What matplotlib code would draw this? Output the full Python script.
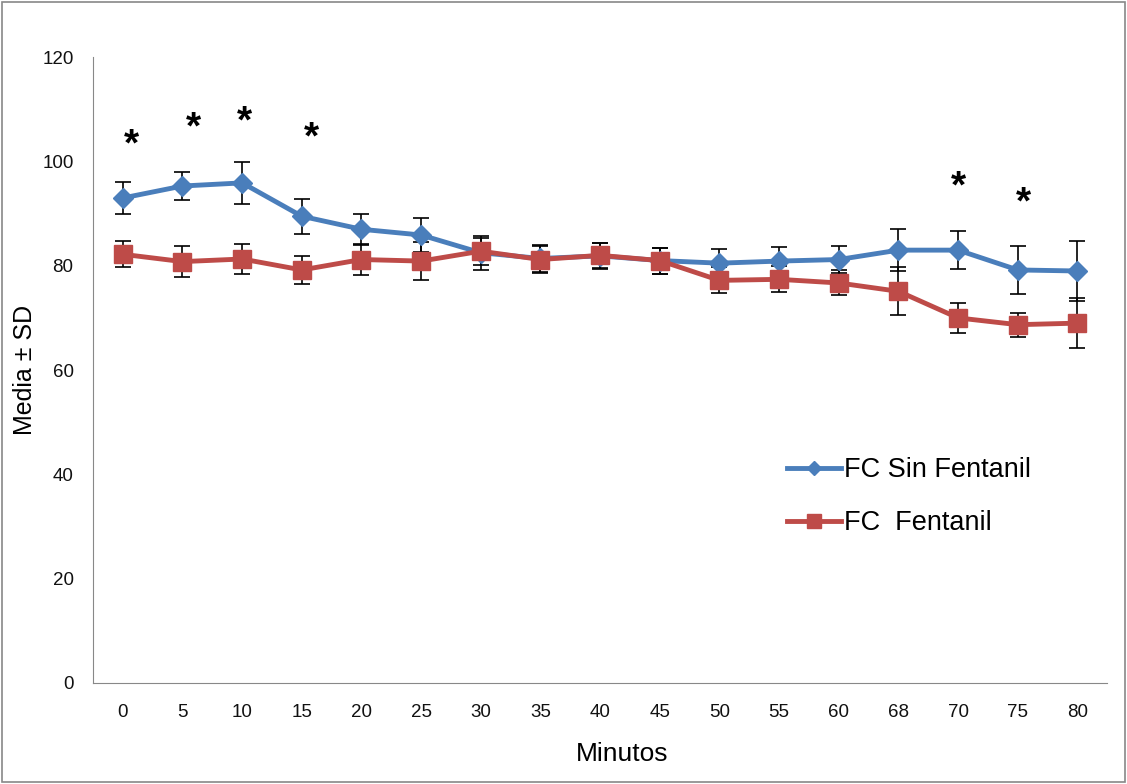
import numpy as np
import matplotlib
matplotlib.use("Agg")
import matplotlib.pyplot as plt

plt.rcParams["font.family"] = ["Liberation Sans", "DejaVu Sans"]

minutos = ["0", "5", "10", "15", "20", "25", "30", "35", "40", "45",
           "50", "55", "60", "68", "70", "75", "80"]
sin_fentanil = [93.0, 95.3, 95.9, 89.5, 87.0, 85.9, 82.5, 81.4, 81.9, 81.0,
                80.5, 80.9, 81.2, 83.0, 83.0, 79.2, 79.0]
sin_fentanil_sd = [3.0, 2.6, 4.0, 3.4, 3.0, 3.2, 3.3, 2.5, 2.5, 2.5,
                   2.8, 2.7, 2.6, 4.0, 3.6, 4.6, 5.7]
fentanil = [82.2, 80.8, 81.3, 79.2, 81.2, 80.9, 82.8, 81.2, 82.0, 81.0,
            77.2, 77.4, 76.7, 75.1, 70.0, 68.7, 69.0]
fentanil_sd = [2.5, 3.0, 2.8, 2.6, 2.9, 3.7, 2.6, 2.6, 2.4, 2.5,
               2.5, 2.5, 2.4, 4.6, 2.8, 2.3, 4.8]
# significance stars: (category position, height)
stars_x = [0.15, 1.19, 2.04, 3.17, 14.0, 15.1]
stars_y = [103.0, 106.3, 107.5, 104.5, 95.0, 92.0]

blue = "#4a7ebb"
red = "#be4b48"

fig = plt.figure(figsize=(11.27, 7.84), dpi=100)
ax = fig.add_axes([0.0825, 0.129, 0.9, 0.798])
x = np.arange(len(minutos))

ax.errorbar(x, sin_fentanil, yerr=sin_fentanil_sd, color=blue, lw=3.5,
            marker="D", ms=10, ecolor="black", elinewidth=1.2, capsize=6,
            capthick=1.2, label="FC Sin Fentanil", zorder=3)
ax.errorbar(x, fentanil, yerr=fentanil_sd, color=red, lw=3.5,
            marker="s", ms=13, ecolor="black", elinewidth=1.2, capsize=6,
            capthick=1.2, label="FC  Fentanil", zorder=3)

for sx, sy in zip(stars_x, stars_y):
    ax.text(sx, sy, "*", ha="center", va="center", fontsize=28,
            fontweight="bold")

ax.set_ylim(0, 120)
ax.set_yticks(range(0, 121, 20))
ax.set_xlim(-0.5, len(minutos) - 0.5)
ax.set_xticks(x)
ax.set_xticklabels(minutos)
ax.tick_params(labelsize=13.5, length=0, colors="#111111")
ax.tick_params(axis="x", pad=15)
ax.tick_params(axis="y", pad=14)
for side in ["top", "right"]:
    ax.spines[side].set_visible(False)
for side in ["left", "bottom"]:
    ax.spines[side].set_color("#888888")

ax.set_xlabel("Minutos", fontsize=19)
ax.xaxis.set_label_coords(0.522, -0.095)
ax.set_ylabel("Media \u00b1 SD", fontsize=18, labelpad=4)

h, l = ax.get_legend_handles_labels()
h = [hh[0] for hh in h]
ax.legend(h, l, loc="upper left", bbox_to_anchor=(0.66, 0.40), frameon=False,
          fontsize=19.5, handlelength=2.0, handletextpad=0.1, labelspacing=1.0,
          markerscale=0.75)

fig.patches.append(plt.Rectangle((0.002, 0.002), 0.996, 0.996, fill=False,
                                 edgecolor="#888888", lw=1.2,
                                 transform=fig.transFigure))
fig.savefig("out.png", dpi=100)
